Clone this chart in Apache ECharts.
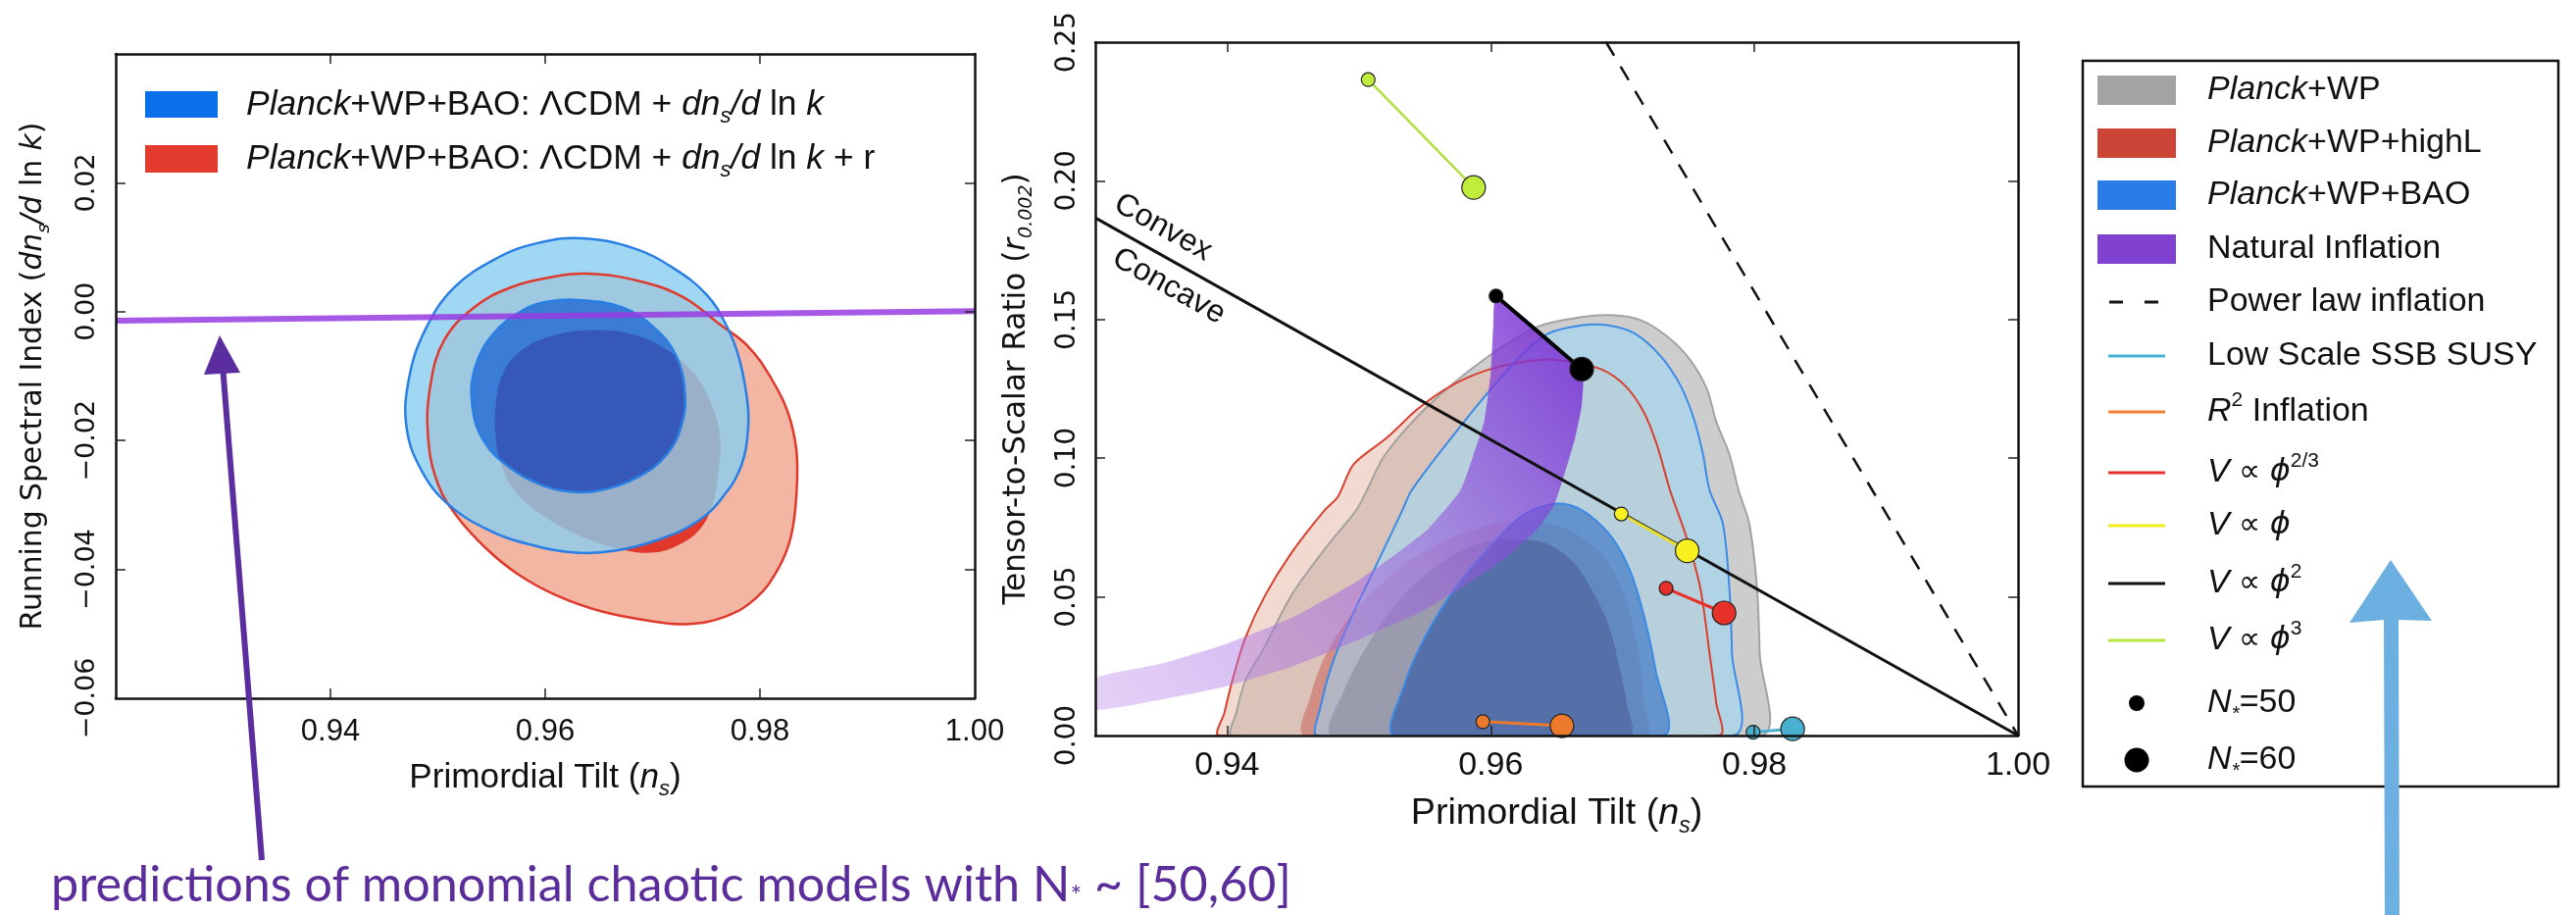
<!DOCTYPE html>
<html>
<head>
<meta charset="utf-8">
<script src="https://cdn.jsdelivr.net/npm/echarts@6.0.0/dist/echarts.min.js"></script>
<style>
  html, body { margin: 0; padding: 0; background: #fff; }
  #chart { width: 2627px; height: 933px; }
</style>
</head>
<body>
<div id="chart"></div>
<script>
// ---- left panel: ns vs dns/dlnk contours ----
const leftRedOuter = [[0.9640,0.0059],[0.9689,0.0047],[0.9729,0.0022],[0.9762,-0.0019],[0.9789,-0.0054],[0.9811,-0.0105],[0.9826,-0.0156],[0.9834,-0.0216],[0.9834,-0.0282],[0.9829,-0.0348],[0.9817,-0.0399],[0.9796,-0.0445],[0.9768,-0.0473],[0.9732,-0.0485],[0.9698,-0.0480],[0.9652,-0.0465],[0.9610,-0.0440],[0.9576,-0.0409],[0.9546,-0.0369],[0.9518,-0.0318],[0.9500,-0.0267],[0.9491,-0.0196],[0.9493,-0.0115],[0.9506,-0.0044],[0.9534,0.0007],[0.9567,0.0037],[0.9604,0.0053]];
const leftRedInner = [[0.9649,-0.0029],[0.9683,-0.0036],[0.9713,-0.0059],[0.9738,-0.0095],[0.9754,-0.0140],[0.9763,-0.0196],[0.9761,-0.0252],[0.9756,-0.0298],[0.9744,-0.0338],[0.9722,-0.0364],[0.9698,-0.0374],[0.9671,-0.0369],[0.9637,-0.0351],[0.9604,-0.0323],[0.9576,-0.0287],[0.9561,-0.0247],[0.9554,-0.0196],[0.9554,-0.0145],[0.9561,-0.0095],[0.9579,-0.0059],[0.9610,-0.0036]];
const leftBlueOuter = [[0.9634,0.0114],[0.9683,0.0098],[0.9719,0.0068],[0.9750,0.0027],[0.9768,-0.0019],[0.9780,-0.0069],[0.9788,-0.0135],[0.9789,-0.0181],[0.9783,-0.0237],[0.9768,-0.0282],[0.9744,-0.0323],[0.9707,-0.0353],[0.9665,-0.0371],[0.9628,-0.0374],[0.9585,-0.0361],[0.9546,-0.0338],[0.9509,-0.0298],[0.9485,-0.0247],[0.9471,-0.0181],[0.9473,-0.0105],[0.9488,-0.0029],[0.9515,0.0037],[0.9555,0.0083],[0.9592,0.0106]];
const leftBlueInner = [[0.9631,0.0018],[0.9671,0.0007],[0.9701,-0.0024],[0.9722,-0.0069],[0.9730,-0.0125],[0.9727,-0.0176],[0.9713,-0.0222],[0.9686,-0.0257],[0.9652,-0.0277],[0.9628,-0.0280],[0.9598,-0.0270],[0.9567,-0.0242],[0.9543,-0.0201],[0.9532,-0.0145],[0.9535,-0.0085],[0.9552,-0.0034],[0.9579,0.0002],[0.9604,0.0016]];
const leftMonomial = [[0.92,-0.0014],[1.00,0.0001]];

// ---- right panel: ns vs r contours ----
const midGreyOuter = [[0.9404,0],[0.9407,0.0083],[0.9414,0.0200],[0.9427,0.0307],[0.9449,0.0507],[0.9474,0.0672],[0.9498,0.0813],[0.9506,0.0884],[0.9520,0.1014],[0.9553,0.1191],[0.9595,0.1356],[0.9635,0.1473],[0.9669,0.1509],[0.9694,0.1515],[0.9714,0.1497],[0.9734,0.1438],[0.9751,0.1356],[0.9764,0.1249],[0.9771,0.1132],[0.9781,0.1014],[0.9788,0.0884],[0.9796,0.0766],[0.9802,0.0531],[0.9804,0.0295],[0.9805,0]];
const midGreyInner = [[0.9480,0],[0.9490,0.0177],[0.9510,0.0354],[0.9534,0.0507],[0.9563,0.0625],[0.9590,0.0690],[0.9613,0.0707],[0.9640,0.0696],[0.9660,0.0637],[0.9676,0.0531],[0.9690,0.0389],[0.9698,0.0236],[0.9703,0.0118],[0.9705,0]];
const midRedOuter = [[0.9394,0],[0.9398,0.0083],[0.9404,0.0200],[0.9414,0.0354],[0.9429,0.0507],[0.9449,0.0660],[0.9474,0.0813],[0.9484,0.0861],[0.9496,0.0978],[0.9521,0.1073],[0.9545,0.1179],[0.9570,0.1261],[0.9595,0.1314],[0.9620,0.1344],[0.9644,0.1356],[0.9662,0.1345],[0.9684,0.1320],[0.9702,0.1261],[0.9716,0.1167],[0.9726,0.1049],[0.9736,0.0884],[0.9749,0.0707],[0.9759,0.0531],[0.9766,0.0295],[0.9771,0.0118],[0.9773,0]];
const midRedInner = [[0.9459,0],[0.9464,0.0153],[0.9474,0.0283],[0.9495,0.0440],[0.9525,0.0580],[0.9560,0.0690],[0.9600,0.0760],[0.9630,0.0775],[0.9660,0.0740],[0.9685,0.0650],[0.9702,0.0500],[0.9712,0.0300],[0.9716,0.0120],[0.9718,0]];
const midBlueOuter = [[0.9469,0],[0.9471,0.0106],[0.9479,0.0248],[0.9493,0.0413],[0.9513,0.0613],[0.9533,0.0813],[0.9540,0.0884],[0.9570,0.1073],[0.9600,0.1249],[0.9625,0.1379],[0.9644,0.1450],[0.9669,0.1479],[0.9689,0.1479],[0.9709,0.1450],[0.9729,0.1367],[0.9744,0.1261],[0.9754,0.1143],[0.9761,0.1014],[0.9766,0.0884],[0.9776,0.0766],[0.9781,0.0531],[0.9783,0.0295],[0.9784,0]];
const midBlueInner = [[0.9527,0],[0.9534,0.0177],[0.9550,0.0354],[0.9573,0.0531],[0.9600,0.0684],[0.9623,0.0790],[0.9643,0.0831],[0.9660,0.0831],[0.9676,0.0790],[0.9693,0.0707],[0.9706,0.0590],[0.9716,0.0436],[0.9725,0.0236],[0.9731,0]];
const naturalBand = [[0.9300,0.0094],[0.9350,0.0130],[0.9399,0.0177],[0.9449,0.0248],[0.9498,0.0342],[0.9548,0.0448],[0.9585,0.0554],[0.9610,0.0637],[0.9635,0.0743],[0.9648,0.0830],[0.9656,0.0943],[0.9664,0.1073],[0.9669,0.1191],[0.9669,0.1320],[0.9604,0.1585],[0.9602,0.1485],[0.9600,0.1308],[0.9595,0.1132],[0.9587,0.1014],[0.9577,0.0884],[0.9552,0.0743],[0.9523,0.0637],[0.9498,0.0554],[0.9449,0.0424],[0.9399,0.0330],[0.9350,0.0259],[0.9300,0.0206]];
const convexLine = [[0.93,0.18667],[1.00,0]];
const powerLaw = [[0.96875,0.25],[1.00,0]];
// model predictions: [N=50, N=60]
const phi3 = [[0.9507,0.2365],[0.9587,0.1976]];
const phi2 = [[0.9604,0.1585],[0.9669,0.1321]];
const phi1 = [[0.9699,0.0799],[0.9749,0.0666]];
const phi23 = [[0.9733,0.0531],[0.9777,0.0442]];
const r2Infl = [[0.9594,0.0050],[0.9654,0.0035]];
const ssbSusy = [[0.9799,0.0012],[0.9829,0.0024]];

// ticks
const leftXTicks = [0.94, 0.96, 0.98];
const leftXLabels = [0.94, 0.96, 0.98, 1.00];
const leftYTicks = [-0.04, -0.02, 0.00, 0.02];
const leftYLabels = [-0.06, -0.04, -0.02, 0.00, 0.02];
const midXTicks = [0.94, 0.96, 0.98];
const midXLabels = [0.94, 0.96, 0.98, 1.00];

// legend
const legendNames = ['{it|Planck}+WP', '{it|Planck}+WP+highL', '{it|Planck}+WP+BAO', 'Natural Inflation',
  'Power law inflation', 'Low Scale SSB SUSY', '{it|R}{sup|2} Inflation', '{it|V} {m|∝} {ph|ϕ}{sup|2/3}',
  '{it|V} {m|∝} {ph|ϕ}', '{it|V} {m|∝} {ph|ϕ}{sup|2}', '{it|V} {m|∝} {ph|ϕ}{sup|3}', '{it|N}{sub|*}=50', '{it|N}{sub|*}=60'];
const legendKinds = ['rect','rect','rect','rect','dash','line','line','line','line','line','line','small','big'];
const legendColors = ['#a3a3a3','#cc4436','#2a7de6','#8040d0','#111','#45b4d8','#f07f33','#e83030','#f0ec1c','#111','#b4e640','#000','#000'];
const legendRowY = [92, 146, 199, 254, 308, 363, 420, 482, 536, 595, 653, 717, 775];

const SANS = 'Liberation Sans';
const DV = 'DejaVu Sans';

// font size that makes a string span a given pixel width
const measureCtx = document.createElement('canvas').getContext('2d');
function fitSize(text, family, target) {
  measureCtx.font = '100px "' + family + '"';
  return 100 * target / measureCtx.measureText(text).width;
}
const noteSize = fitSize('predictions of monomial chaotic models with N* ~ [50,60]', 'Lato', 1275);
const leftLegSize = fitSize('Planck+WP+BAO: ΛCDM + dns/d ln k', SANS, 596);
const leftXNameSize = fitSize('Primordial Tilt (ns)', SANS, 284);
const midXNameSize = fitSize('Primordial Tilt (ns)', SANS, 305);
const leftYNameSize = fitSize('Running Spectral Index (dns/d ln k)', DV, 524);
const midYNameSize = fitSize('Tensor-to-Scalar Ratio (r0.002)', DV, 475);

const chart = echarts.init(document.getElementById('chart'));

function poly(pts, ax, z, style, smooth, clipPts) {
  return {
    type: 'custom', xAxisIndex: ax, yAxisIndex: ax, z: z, clip: true, silent: true,
    data: [pts[0]],
    renderItem: (params, api) => {
      const el = {
        type: 'polygon',
        shape: { points: pts.map(p => api.coord(p)), smooth: smooth },
        style: style
      };
      if (clipPts) {
        el.clipPath = { type: 'polygon', shape: { points: clipPts.map(p => api.coord(p)), smooth: smooth } };
      }
      return el;
    }
  };
}

function pred(pts, color, lineColor, width) {
  return {
    type: 'line', xAxisIndex: 2, yAxisIndex: 2, data: pts, z: 9, clip: true, silent: true,
    symbol: 'circle', showSymbol: true,
    symbolSize: (v, p) => p.dataIndex === 0 ? 14 : 24,
    lineStyle: { color: lineColor, width: width },
    itemStyle: { color: color, borderColor: '#222', borderWidth: 1.2 }
  };
}

function richSet(size, fam) {
  return {
    it: { fontStyle: 'italic', fontFamily: fam, fontSize: size, lineHeight: size * 1.3 },
    sub: { fontStyle: 'italic', fontFamily: fam, fontSize: Math.round(size * 0.62), verticalAlign: 'bottom', lineHeight: size * 0.9 },
    sup: { fontFamily: fam, fontSize: Math.round(size * 0.62), verticalAlign: 'top', lineHeight: size * 0.9 },
    m: { fontFamily: DV, fontSize: Math.round(size * 0.9), lineHeight: size * 1.3 },
    ph: { fontFamily: DV, fontStyle: 'italic', fontSize: Math.round(size * 0.95), lineHeight: size * 1.3 }
  };
}

const axisLine = { show: true, onZero: false, lineStyle: { color: '#111', width: 2.5 } };
function tick(vals) { return { show: true, inside: true, length: 10, customValues: vals, lineStyle: { color: '#222', width: 1.5 } }; }
const noLabel = { show: false };
const fmtX = v => v.toFixed(2);
const fmtY = v => (v < -1e-9 ? '\u2212' : '') + Math.abs(v).toFixed(2);

const xAxis = [
  { gridIndex: 0, type: 'value', min: 0.92, max: 1.00, position: 'bottom', z: 10, axisLine, axisTick: tick(leftXTicks),
    axisLabel: { customValues: leftXLabels, formatter: fmtX, fontFamily: SANS, fontSize: 31, color: '#111', margin: 19 },
    splitLine: { show: false },
    name: 'Primordial Tilt ({it|n}{sub|s})', nameLocation: 'middle', nameGap: 58,
    nameTextStyle: { fontFamily: SANS, fontSize: leftXNameSize, color: '#111', lineHeight: leftXNameSize * 1.3, rich: richSet(leftXNameSize, SANS) } },
  { gridIndex: 0, type: 'value', min: 0.92, max: 1.00, position: 'top', z: 10, axisLine, axisTick: tick(leftXTicks), axisLabel: noLabel, splitLine: { show: false } },
  { gridIndex: 1, type: 'value', min: 0.93, max: 1.00, position: 'bottom', z: 10, axisLine, axisTick: tick(midXTicks),
    axisLabel: { customValues: midXLabels, formatter: fmtX, fontFamily: SANS, fontSize: 34, color: '#111', margin: 14 },
    splitLine: { show: false },
    name: 'Primordial Tilt ({it|n}{sub|s})', nameLocation: 'middle', nameGap: 55,
    nameTextStyle: { fontFamily: SANS, fontSize: midXNameSize, color: '#111', lineHeight: midXNameSize * 1.3, rich: richSet(midXNameSize, SANS) } },
  { gridIndex: 1, type: 'value', min: 0.93, max: 1.00, position: 'top', z: 10, axisLine, axisTick: tick(midXTicks), axisLabel: noLabel, splitLine: { show: false } }
];

const yAxis = [
  { gridIndex: 0, type: 'value', min: -0.06, max: 0.04, position: 'left', z: 10, axisLine, axisTick: tick(leftYTicks),
    axisLabel: { customValues: leftYLabels, formatter: fmtY, rotate: 90, fontFamily: DV, fontSize: 27, color: '#111', margin: 16 },
    splitLine: { show: false },
    name: 'Running Spectral Index ({it|dn}{sub|s}{it|/d} ln {it|k})', nameLocation: 'middle', nameRotate: 90, nameGap: 64,
    nameTextStyle: { fontFamily: DV, fontSize: leftYNameSize, color: '#111', lineHeight: leftYNameSize * 1.3, rich: richSet(leftYNameSize, DV) } },
  { gridIndex: 0, type: 'value', min: -0.06, max: 0.04, position: 'right', z: 10, axisLine, axisTick: tick(leftYTicks), axisLabel: noLabel, splitLine: { show: false } },
  { gridIndex: 1, type: 'value', min: 0, max: 0.25, interval: 0.05, position: 'left', z: 10, axisLine,
    axisTick: tick([0.05, 0.10, 0.15, 0.20]),
    axisLabel: { formatter: fmtX, rotate: 90, fontFamily: DV, fontSize: 28, color: '#111', margin: 14, showMinLabel: true, showMaxLabel: true },
    splitLine: { show: false },
    name: 'Tensor-to-Scalar Ratio ({it|r}{sub|0.002})', nameLocation: 'middle', nameRotate: 90, nameGap: 60,
    nameTextStyle: { fontFamily: DV, fontSize: midYNameSize, color: '#111', lineHeight: midYNameSize * 1.3, rich: richSet(midYNameSize, DV) } },
  { gridIndex: 1, type: 'value', min: 0, max: 0.25, interval: 0.05, position: 'right', z: 10, axisLine,
    axisTick: tick([0.05, 0.10, 0.15, 0.20]), axisLabel: noLabel, splitLine: { show: false } }
];

const bandFill = new echarts.graphic.LinearGradient(0, 1, 1, 0, [
  { offset: 0, color: 'rgba(190,140,235,0.40)' },
  { offset: 0.55, color: 'rgba(150,90,225,0.55)' },
  { offset: 1, color: 'rgba(115,35,210,0.88)' }
]);

const series = [
  // left panel
  poly(leftRedOuter, 0, 1, { fill: '#f3b6a2' }, 0.4),
  poly(leftRedInner, 0, 2, { fill: '#e0392c' }, 0.4),
  poly(leftBlueOuter, 0, 3, { fill: 'rgba(136,206,241,0.8)' }, 0.4),
  poly(leftBlueInner, 0, 4, { fill: 'rgba(16,91,209,0.7)' }, 0.4),
  poly(leftBlueInner, 0, 4, { fill: '#3558b9' }, 0.4, leftRedInner),
  poly(leftRedOuter, 0, 5, { fill: 'none', stroke: '#df3a2d', lineWidth: 2.5 }, 0.4),
  poly(leftBlueOuter, 0, 5, { fill: 'none', stroke: '#2a7fe4', lineWidth: 2.5 }, 0.4),
  poly(leftBlueInner, 0, 5, { fill: 'none', stroke: '#2a7fe4', lineWidth: 2.5 }, 0.4),
  { type: 'line', xAxisIndex: 0, yAxisIndex: 0, data: leftMonomial, z: 6, symbol: 'none', silent: true,
    lineStyle: { color: 'rgba(150,60,225,0.85)', width: 6 } },

  // right panel
  poly(midGreyOuter, 2, 1, { fill: '#cdcdcd' }, 0.3),
  poly(midRedOuter, 2, 2, { fill: 'rgba(233,187,168,0.54)' }, 0.3),
  poly(midRedInner, 2, 2, { fill: 'rgba(200,90,80,0.5)' }, 0.3),
  poly(midBlueOuter, 2, 3, { fill: 'rgba(147,219,255,0.5)' }, 0.3),
  poly(midBlueInner, 2, 4, { fill: 'rgba(45,109,194,0.6)' }, 0.3),
  poly(midGreyInner, 2, 4, { fill: 'rgba(70,70,100,0.22)' }, 0.3),
  poly(midBlueInner, 2, 4, { fill: '#5570a8' }, 0.3, midGreyInner),
  poly(midGreyOuter, 2, 5, { fill: 'none', stroke: '#a2a2a2', lineWidth: 2 }, 0.3),
  poly(midRedOuter, 2, 5, { fill: 'none', stroke: '#d8402f', lineWidth: 2 }, 0.3),
  poly(midBlueOuter, 2, 5, { fill: 'none', stroke: '#3a8ae6', lineWidth: 2 }, 0.3),
  poly(midBlueInner, 2, 5, { fill: 'none', stroke: '#3a8ae6', lineWidth: 2 }, 0.3),
  poly(naturalBand, 2, 6, { fill: bandFill }, 0.15),
  { type: 'line', xAxisIndex: 2, yAxisIndex: 2, data: convexLine, z: 8, symbol: 'none', silent: true,
    lineStyle: { color: '#111', width: 3 } },
  { type: 'line', xAxisIndex: 2, yAxisIndex: 2, data: powerLaw, z: 8, symbol: 'none', silent: true,
    lineStyle: { color: '#111', width: 2.5, type: [16, 13] } },
  pred(phi3, '#c0ec3c', '#b0e040', 2.5),
  pred(phi2, '#000', '#000', 4),
  pred(phi1, '#f8f020', '#e8e030', 3),
  pred(phi23, '#e8302a', '#e8302a', 3),
  pred(r2Infl, '#ec7a2c', '#ec7a2c', 3),
  pred(ssbSusy, '#4ab0d0', '#4ab0d0', 3)
];

// legend graphics
const legendGraphics = [{
  type: 'rect', shape: { x: 2124, y: 62, width: 485, height: 740 },
  style: { fill: '#fff', stroke: '#111', lineWidth: 2.5 }, z: 1
}];
const legRich = richSet(34, SANS);
legendNames.forEach((txt, i) => {
  const y = legendRowY[i];
  const kind = legendKinds[i], c = legendColors[i];
  if (kind === 'rect') {
    legendGraphics.push({ type: 'rect', shape: { x: 2139, y: y - 15, width: 80, height: 30 }, style: { fill: c }, z: 2 });
  } else if (kind === 'dash') {
    legendGraphics.push({ type: 'line', shape: { x1: 2151, y1: y, x2: 2201, y2: y },
      style: { stroke: c, lineWidth: 3, lineDash: [14, 22] }, z: 2 });
  } else if (kind === 'line') {
    legendGraphics.push({ type: 'line', shape: { x1: 2150, y1: y, x2: 2208, y2: y }, style: { stroke: c, lineWidth: 3 }, z: 2 });
  } else {
    legendGraphics.push({ type: 'circle', shape: { cx: 2179, cy: y, r: kind === 'small' ? 8 : 12.5 }, style: { fill: c }, z: 2 });
  }
  legendGraphics.push({
    type: 'text', x: 2251, y: y, z: 2,
    style: { text: txt, fontFamily: SANS, fontSize: 34, fill: '#111', verticalAlign: 'middle', align: 'left', lineHeight: 44, rich: legRich }
  });
});

const leftLegRich = richSet(leftLegSize, SANS);
const annotations = [
  { type: 'rect', shape: { x: 148, y: 93, width: 74, height: 27 }, style: { fill: '#0a6fe8' }, z: 20 },
  { type: 'rect', shape: { x: 148, y: 148, width: 74, height: 28 }, style: { fill: '#e23b2e' }, z: 20 },
  { type: 'text', x: 251, y: 107, z: 20, style: { text: '{it|Planck}+WP+BAO: ΛCDM + {it|dn}{sub|s}{it|/d} ln {it|k}', fontFamily: SANS, fontSize: leftLegSize, fill: '#111', verticalAlign: 'middle', lineHeight: leftLegSize * 1.3, rich: leftLegRich } },
  { type: 'text', x: 251, y: 162, z: 20, style: { text: '{it|Planck}+WP+BAO: ΛCDM + {it|dn}{sub|s}{it|/d} ln {it|k} + r', fontFamily: SANS, fontSize: leftLegSize, fill: '#111', verticalAlign: 'middle', lineHeight: leftLegSize * 1.3, rich: leftLegRich } },
  { type: 'text', x: 1186, y: 232, rotation: -0.511, z: 20, style: { text: 'Convex', fontFamily: SANS, fontSize: 32, fill: '#111', align: 'center', verticalAlign: 'middle' } },
  { type: 'text', x: 1192, y: 292, rotation: -0.511, z: 20, style: { text: 'Concave', fontFamily: SANS, fontSize: 32, fill: '#111', align: 'center', verticalAlign: 'middle' } },
  // purple arrow and note
  { type: 'line', shape: { x1: 267, y1: 877, x2: 227, y2: 372 }, style: { stroke: '#5b2d9e', lineWidth: 6 }, z: 20 },
  { type: 'polygon', shape: { points: [[224, 342], [245, 380], [208, 382]] }, style: { fill: '#5b2d9e' }, z: 20 },
  { type: 'text', x: 52, y: 903, z: 20, style: { text: 'predictions of monomial chaotic models with N{s|*} ~ [50,60]', fontFamily: 'Lato', fontSize: noteSize, fill: '#5b2d9b', verticalAlign: 'middle',
      rich: { s: { fontFamily: 'Lato', fontSize: noteSize * 0.55, fill: '#5b2d9b', verticalAlign: 'bottom', lineHeight: noteSize * 0.9 } } } },
  // blue arrow
  { type: 'polygon', shape: { points: [[2438, 571], [2480, 633], [2446, 632], [2447, 933], [2432, 933], [2431, 632], [2396, 635]] },
    style: { fill: '#6cb0e2' }, z: 20 }
];

chart.setOption({
  animation: false,
  backgroundColor: '#fff',
  grid: [
    { left: 118, top: 55, width: 876, height: 657 },
    { left: 1117, top: 43, width: 941, height: 707 }
  ],
  xAxis: xAxis,
  yAxis: yAxis,
  series: series,
  graphic: legendGraphics.concat(annotations)
});
window.addEventListener('resize', () => chart.resize());
</script>
</body>
</html>
